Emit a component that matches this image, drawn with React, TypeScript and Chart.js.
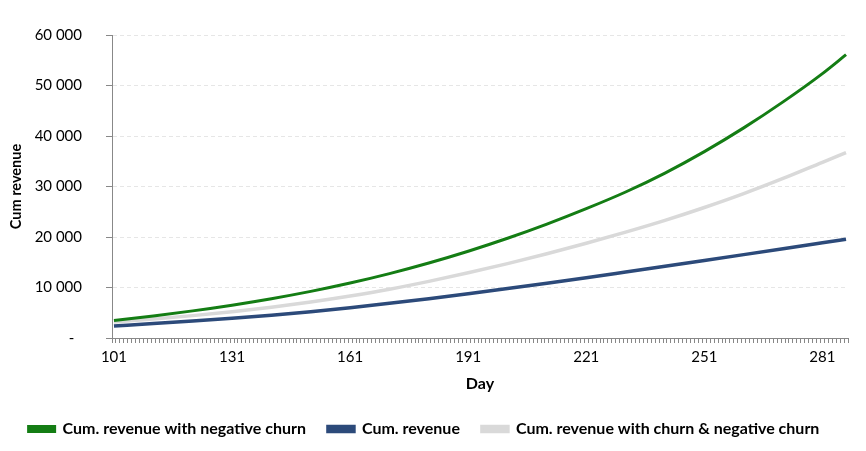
import React, { useEffect, useRef } from "react";
import { Chart, registerables } from "chart.js";

Chart.register(...registerables);

// Category axis: every day from 101 to 287
const firstDay = 101;
const lastDay = 287;
const dayLabels: string[] = Array.from({ length: lastDay - firstDay + 1 }, (_, i) => String(firstDay + i));

const sampleDays = [101, 111, 121, 131, 141, 151, 161, 171, 181, 191, 201, 211, 221, 231, 241, 251, 261, 271, 281, 287];

const negativeChurn = [3450, 4370, 5370, 6500, 7780, 9230, 10880, 12750, 14850, 17180, 19750, 22560, 25610, 28910, 32660, 36910, 41610, 46760, 52360, 56100];
const cumRevenue = [2400, 2850, 3350, 3900, 4520, 5220, 6000, 6860, 7790, 8780, 9800, 10850, 11930, 13060, 14200, 15350, 16510, 17680, 18860, 19570];
const churnAndNegative = [3150, 3750, 4430, 5210, 6110, 7150, 8330, 9660, 11210, 12910, 14730, 16680, 18760, 20960, 23290, 25840, 28590, 31590, 34790, 36700];

const yTicks = [0, 10000, 20000, 30000, 40000, 50000, 60000];
const labelEvery = 30;

const FONT = "Lato, 'Liberation Sans', Arial, sans-serif";

function toPoints(values: number[]) {
  return values.map((v, i) => ({ x: String(sampleDays[i]), y: v }));
}

function fmt(v: number): string {
  if (v === 0) return "-  ";
  return String(v).replace(/\B(?=(\d{3})+(?!\d))/g, " ");
}

export default function App() {
  const ref = useRef<HTMLCanvasElement | null>(null);

  useEffect(() => {
    if (!ref.current) return;
    const chart = new Chart(ref.current, {
      type: "line",
      data: {
        labels: dayLabels,
        datasets: [
          {
            label: "Cum. revenue with negative churn",
            data: toPoints(negativeChurn) as any,
            borderColor: "#147d14",
            backgroundColor: "#147d14",
            borderWidth: 3,
            pointRadius: 0,
            cubicInterpolationMode: "monotone",
          },
          {
            label: "Cum. revenue",
            data: toPoints(cumRevenue) as any,
            borderColor: "#2c4a7a",
            backgroundColor: "#2c4a7a",
            borderWidth: 3.5,
            pointRadius: 0,
            cubicInterpolationMode: "monotone",
          },
          {
            label: "Cum. revenue with churn & negative churn",
            data: toPoints(churnAndNegative) as any,
            borderColor: "#d9d9d9",
            backgroundColor: "#d9d9d9",
            borderWidth: 3.5,
            pointRadius: 0,
            cubicInterpolationMode: "monotone",
          },
        ],
      },
      options: {
        animation: false,
        responsive: false,
        maintainAspectRatio: false,
        layout: { padding: { top: 35, right: 18, left: 0, bottom: 4 } },
        plugins: {
          tooltip: { enabled: false },
          legend: {
            position: "bottom",
            labels: {
              boxWidth: 26,
              boxHeight: 5,
              padding: 22,
              color: "#000",
              font: { family: FONT, size: 16, weight: "bold" },
            },
          },
        },
        scales: {
          x: {
            type: "category",
            offset: true,
            grid: {
              display: true,
              drawOnChartArea: false,
              drawTicks: true,
              tickLength: 5,
              color: "#888",
              offset: true,
            },
            border: { color: "#888", width: 1 },
            ticks: {
              autoSkip: false,
              maxRotation: 0,
              minRotation: 0,
              padding: 5,
              color: "#000",
              font: { family: FONT, size: 15 },
              callback: (_v: any, index: number) => ((index % labelEvery) === 0 ? dayLabels[index] : ""),
            },
            title: {
              display: true,
              text: "Day",
              color: "#000",
              font: { family: FONT, size: 16, weight: "bold" },
              padding: { top: 4, bottom: 6 },
            },
            afterFit: (scale: any) => {
              scale.height = 61;
            },
          },
          y: {
            min: 0,
            max: 60000,
            afterBuildTicks: (scale: any) => {
              scale.ticks = yTicks.map((v) => ({ value: v }));
            },
            grid: {
              color: "#e6e6e6",
              tickColor: "#888",
              tickLength: 6,
            },
            border: { color: "#888", width: 1, dash: [4, 3] },
            ticks: {
              padding: 24,
              color: "#000",
              font: { family: FONT, size: 15 },
              callback: (v: any) => fmt(Number(v)),
            },
            title: {
              display: true,
              text: "Cum revenue",
              color: "#000",
              font: { family: FONT, size: 14.5, weight: "bold" },
              padding: { top: 8, bottom: 0 },
            },
            afterFit: (scale: any) => {
              scale.width = 112;
            },
          },
        },
      },
    });
    return () => chart.destroy();
  }, []);

  return (
    <div style={{ position: "absolute", left: 0, top: 0, width: 866, height: 451, background: "#fff" }}>
      <canvas ref={ref} width={866} height={451} style={{ width: 866, height: 451, display: "block" }} />
    </div>
  );
}
